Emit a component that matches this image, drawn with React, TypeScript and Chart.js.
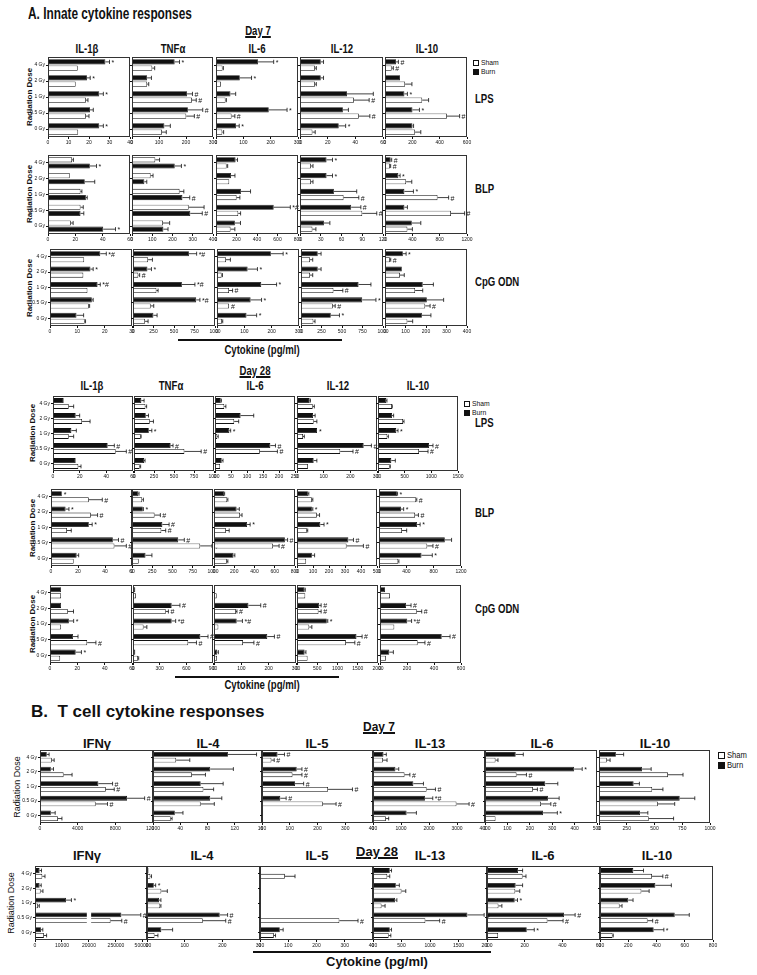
import React, { useEffect, useRef } from 'react';
import { Chart, registerables } from 'chart.js';
Chart.register(...registerables);

const FONT = "'Liberation Sans', Arial, sans-serif";
const doses = ['4 Gy', '2 Gy', '1 Gy', '0.5 Gy', '0 Gy'];
const innateTitles = ['IL-1β', 'TNFα', 'IL-6', 'IL-12', 'IL-10'];
const tcellTitles = ['IFNγ', 'IL-4', 'IL-5', 'IL-13', 'IL-6', 'IL-10'];
const ifnBrokenTicks = ['0', '10000', '20000', '250000', '500000'];
const NONE = ['', '', '', '', ''];

// ---------- A. Day 7, LPS ----------
const A7L_MAX = [40, 300, 300, 60, 600];
const A7L_STEP = [10, 100, 100, 20, 200];
const A7L_IL1B_B = [28, 19, 25, 20.5, 25]; const A7L_IL1B_BE = [2, 1.6, 2, 1.6, 2];
const A7L_IL1B_S = [14.5, 13.5, 18.5, 18.5, 14.7]; const A7L_IL1B_SE = [0, 0, 1, 1.5, 0];
const A7L_IL1B_BM = ['*', '*', '*', '', '*'];
const A7L_TNF_B = [158, 56, 204, 207, 120]; const A7L_TNF_BE = [18, 16, 20, 55, 22];
const A7L_TNF_S = [75, 56, 222, 201, 111]; const A7L_TNF_SE = [9, 6, 16, 30, 16];
const A7L_TNF_BM = ['*', '', '#', '#', '']; const A7L_TNF_SM = ['', '', '#', '#', ''];
const A7L_IL6_B = [154, 87, 53, 193, 73]; const A7L_IL6_BE = [57, 43, 19, 67, 12];
const A7L_IL6_S = [24, 18, 35, 57, 23]; const A7L_IL6_SE = [3, 0, 3, 12, 5];
const A7L_IL6_BM = ['*', '*', '', '*', '*']; const A7L_IL6_SM = ['', '', '', '#', ''];
const A7L_IL12_B = [15, 15, 34, 31, 28]; const A7L_IL12_BE = [2, 2, 19, 4, 5];
const A7L_IL12_S = [10.8, 10.8, 39, 42.5, 9]; const A7L_IL12_SE = [1, 1, 11, 8, 2];
const A7L_IL12_BM = ['', '', '', '', '*']; const A7L_IL12_SM = ['', '', '#', '#', ''];
const A7L_IL10_B = [81, 110, 142, 201, 201]; const A7L_IL10_BE = [17, 0, 22, 51, 8];
const A7L_IL10_S = [49, 147, 272, 453, 220]; const A7L_IL10_SE = [12, 50, 47, 93, 42];
const A7L_IL10_BM = ['#', '', '*', '*', '']; const A7L_IL10_SM = ['#', '', '', '#', ''];

// ---------- A. Day 7, BLP ----------
const A7B_MAX = [60, 400, 800, 120, 1200];
const A7B_STEP = [20, 100, 200, 30, 400];
const A7B_IL1B_B = [30.6, 26.9, 27.7, 23.8, 40.4]; const A7B_IL1B_BE = [4.9, 7.3, 1, 2.4, 9];
const A7B_IL1B_S = [17.6, 15.9, 23.8, 23.8, 16.7]; const A7B_IL1B_SE = [1, 0, 1, 2, 1.7];
const A7B_IL1B_BM = ['*', '', '', '', '*'];
const A7B_TNF_B = [211, 61, 249, 288, 155]; const A7B_TNF_BE = [33, 12, 36, 59, 23];
const A7B_TNF_S = [115, 92, 235, 280, 153]; const A7B_TNF_SE = [21, 12, 21, 76, 33];
const A7B_TNF_BM = ['*', '', '#', '#', ''];
const A7B_IL6_B = [191, 146, 243, 563, 184]; const A7B_IL6_BE = [19, 39, 94, 162, 55];
const A7B_IL6_S = [104, 129, 201, 217, 142]; const A7B_IL6_SE = [10, 0, 32, 23, 42];
const A7B_IL6_BM = ['', '', '', '*#', ''];
const A7B_IL12_B = [38.4, 38.4, 49, 74, 34.6]; const A7B_IL12_BE = [8.6, 8.6, 33, 14, 8.6];
const A7B_IL12_S = [15.8, 15.8, 63, 90, 18]; const A7B_IL12_SE = [3, 3, 22, 21, 5];
const A7B_IL12_BM = ['*', '*', '', '#', '']; const A7B_IL12_SM = ['', '', '#', '#', ''];
const A7B_IL10_B = [83, 196, 284, 284, 392]; const A7B_IL10_BE = [15, 25, 132, 44, 132];
const A7B_IL10_S = [73, 309, 769, 965, 328]; const A7B_IL10_SE = [10, 83, 162, 200, 73];
const A7B_IL10_BM = ['#', '*', '*', '', '']; const A7B_IL10_SM = ['#', '', '#', '#', ''];

// ---------- A. Day 7, CpG ODN ----------
const A7C_MAX = [30, 1000, 300, 1000, 400];
const A7C_STEP = [10, 250, 100, 250, 100];
const A7C_IL1B_B = [18.4, 14.8, 17.4, 15.3, 9.7]; const A7C_IL1B_BE = [2.2, 1, 1, 0.5, 2.6];
const A7C_IL1B_S = [12.5, 12.2, 13.7, 14.2, 12.7]; const A7C_IL1B_SE = [0, 0, 0, 0.3, 0.3];
const A7C_IL1B_BM = ['*#', '*', '*#', '', ''];
const A7C_TNF_B = [682, 176, 596, 771, 249]; const A7C_TNF_BE = [94, 49, 159, 45, 45];
const A7C_TNF_S = [184, 65, 286, 216, 147]; const A7C_TNF_SE = [53, 16, 20, 37, 37];
const A7C_TNF_BM = ['*#', '*', '*#', '*#', '']; const A7C_TNF_SM = ['', '#', '', '', ''];
const A7C_IL6_B = [197, 112, 162, 123, 108]; const A7C_IL6_BE = [45, 36, 56, 40, 37];
const A7C_IL6_S = [33, 17, 44, 44, 18]; const A7C_IL6_SE = [16, 3, 13, 0, 3];
const A7C_IL6_BM = ['*', '*', '*', '*', '*']; const A7C_IL6_SM = ['', '', '#', '#', ''];
const A7C_IL12_B = [204, 204, 702, 747, 363]; const A7C_IL12_BE = [41, 41, 151, 167, 106];
const A7C_IL12_S = [110, 110, 396, 388, 151]; const A7C_IL12_SE = [33, 33, 114, 29, 20];
const A7C_IL12_BM = ['', '', '', '*', '*']; const A7C_IL12_SM = ['', '', '#', '#', ''];
const A7C_IL10_B = [87, 82, 184, 204, 180]; const A7C_IL10_BE = [16, 0, 52, 82, 44];
const A7C_IL10_S = [24, 73, 147, 196, 109]; const A7C_IL10_SE = [4, 21, 37, 24, 26];
const A7C_IL10_BM = ['*', '', '', '', '']; const A7C_IL10_SM = ['#', '', '', '#', ''];

// ---------- A. Day 28, LPS ----------
const A28L_MAX = [60, 1000, 250, 300, 1500];
const A28L_STEP = [20, 250, 50, 100, 500];
const A28L_IL1B_B = [8, 17, 13.8, 41, 17]; const A28L_IL1B_BE = [0, 3, 3.7, 5, 0];
const A28L_IL1B_S = [11.8, 21.8, 11.8, 47, 19]; const A28L_IL1B_SE = [3.7, 6, 3.7, 8, 2];
const A28L_TNF_B = [92, 147, 185, 458, 126]; const A28L_TNF_BE = [34, 34, 38, 30, 12];
const A28L_TNF_S = [143, 197, 84, 630, 71]; const A28L_TNF_SE = [15, 46, 5, 210, 12];
const A28L_IL6_B = [18, 80, 45, 173, 21]; const A28L_IL6_BE = [2, 41, 4, 16, 4];
const A28L_IL6_S = [29, 60, 7, 140, 16]; const A28L_IL6_SE = [5, 14, 3, 55, 0];
const A28L_IL12_B = [47.5, 60, 75, 250, 62.5]; const A28L_IL12_BE = [3, 8, 0, 29, 12];
const A28L_IL12_S = [59, 62.5, 22.5, 162, 41]; const A28L_IL12_SE = [6, 12, 5, 48, 0];
const A28L_IL10_B = [156, 262, 344, 956, 250]; const A28L_IL10_BE = [12, 31, 31, 75, 75];
const A28L_IL10_S = [262, 469, 175, 769, 219]; const A28L_IL10_SE = [6, 19, 19, 169, 12];
const A28L_HASH = ['', '', '', '#', ''];
const A28L_STAR_HASH = ['', '', '*', '#', ''];

// ---------- A. Day 28, BLP ----------
const A28B_MAX = [60, 1000, 800, 500, 1200];
const A28B_STEP = [20, 250, 200, 100, 400];
const A28B_IL1B_B = [8, 10.8, 28, 45.8, 19]; const A28B_IL1B_BE = [0, 2.5, 2.5, 4.2, 1.5];
const A28B_IL1B_S = [28, 29.5, 11.8, 47, 16.8]; const A28B_IL1B_SE = [10, 5, 3.2, 8.8, 0];
const A28B_IL1B_BM = ['*', '*', '*', '#', '']; const A28B_IL1B_SM = ['#', '#', '', '#', ''];
const A28B_TNF_B = [79, 133, 375, 571, 167]; const A28B_TNF_BE = [8, 8, 83, 75, 79];
const A28B_TNF_S = [125, 279, 362, 842, 83]; const A28B_TNF_SE = [16, 71, 54, 146, 0];
const A28B_TNF_BM = ['', '*', '#', '#', '']; const A28B_TNF_SM = ['', '#', '#', '#', ''];
const A28B_IL6_B = [100, 223, 327, 700, 193]; const A28B_IL6_BE = [5, 27, 30, 27, 13];
const A28B_IL6_S = [130, 257, 117, 583, 127]; const A28B_IL6_SE = [7, 20, 33, 60, 10];
const A28B_IL6_BM = ['', '', '*', '#', '']; const A28B_IL6_SM = ['', '', '', '#', ''];
const A28B_IL12_B = [68, 93, 146, 321, 93]; const A28B_IL12_BE = [6, 6, 23, 32, 17];
const A28B_IL12_S = [93, 124, 61, 310, 57]; const A28B_IL12_SE = [6, 17, 6, 105, 0];
const A28B_IL12_BM = ['', '*', '*', '#', '']; const A28B_IL12_SM = ['', '', '', '#', ''];
const A28B_IL10_B = [262, 321, 558, 963, 622]; const A28B_IL10_BE = [10, 40, 44, 99, 158];
const A28B_IL10_S = [543, 528, 336, 706, 281]; const A28B_IL10_SE = [10, 49, 69, 84, 10];
const A28B_IL10_BM = ['*', '*', '*', '', '*']; const A28B_IL10_SM = ['#', '#', '', '#', ''];

// ---------- A. Day 28, CpG ODN ----------
const A28C_MAX = [60, 900, 300, 2000, 600];
const A28C_STEP = [20, 300, 100, 500, 200];
const A28C_IL1B_B = [8.1, 8.1, 13.8, 16.8, 18.8]; const A28C_IL1B_BE = [0, 0, 3.5, 3.7, 4.2];
const A28C_IL1B_S = [8.1, 13, 8.1, 27.2, 7.4]; const A28C_IL1B_SE = [0, 4.2, 0, 6.4, 0];
const A28C_IL1B_BM = ['', '', '*', '', '*']; const A28C_IL1B_SM = ['', '', '', '#', ''];
const A28C_TNF_B = [26, 435, 435, 758, 26]; const A28C_TNF_BE = [0, 93, 45, 86, 0];
const A28C_TNF_S = [33, 368, 119, 621, 56]; const A28C_TNF_SE = [0, 30, 37, 93, 8];
const A28C_IL6_B = [4, 126, 83, 195, 12]; const A28C_IL6_BE = [0, 45, 21, 26, 4];
const A28C_IL6_S = [10, 80, 16, 106, 11]; const A28C_IL6_SE = [0, 4, 0, 40, 0];
const A28C_IL12_B = [188, 547, 735, 1469, 188]; const A28C_IL12_BE = [16, 49, 25, 139, 33];
const A28C_IL12_S = [204, 531, 302, 1208, 261]; const A28C_IL12_SE = [0, 65, 65, 220, 0];
const A28C_IL12_BM = ['', '#', '*', '#', ''];
const A28C_IL10_B = [37, 193, 202, 457, 69]; const A28C_IL10_BE = [0, 37, 32, 62, 30];
const A28C_IL10_S = [74, 272, 106, 279, 44]; const A28C_IL10_SE = [0, 37, 0, 54, 0];
const A28C_BM = ['', '#', '*#', '#', ''];
const A28C_SM = ['', '#', '', '#', ''];

// ---------- B. Day 7 ----------
const B7_MAX = [12000, 160, 400, 4000, 500, 1000];
const B7_STEP = [4000, 40, 100, 1000, 100, 250];
const B7_IFN_B = [717, 1147, 6201, 9247, 1147]; const B7_IFN_BE = [250, 287, 1505, 1864, 466];
const B7_IFN_S = [1254, 2509, 6989, 5914, 1900]; const B7_IFN_SE = [250, 896, 896, 1254, 430];
const B7_IFN_M = ['', '', '#', '#', ''];
const B7_IL4_B = [110, 84, 70, 84, 32]; const B7_IL4_BE = [42, 34, 33, 17, 12];
const B7_IL4_S = [34, 57, 74, 70, 26]; const B7_IL4_SE = [20, 20, 15, 20, 2];
const B7_IL5_B = [56, 125, 119, 66, 4]; const B7_IL5_BE = [25, 19, 31, 21, 0];
const B7_IL5_S = [34, 110, 238, 219, 0]; const B7_IL5_SE = [10, 34, 88, 48, 0];
const B7_IL5_M = ['#', '#', '#', '#', ''];
const B7_IL13_B = [375, 800, 1442, 1855, 1200]; const B7_IL13_BE = [100, 120, 360, 280, 350];
const B7_IL13_S = [352, 1127, 1915, 2982, 460]; const B7_IL13_SE = [150, 190, 315, 450, 100];
const B7_IL13_BM = ['', '', '', '*#', '']; const B7_IL13_SM = ['', '#', '#', '#', ''];
const B7_IL6_B = [137, 398, 269, 281, 259]; const B7_IL6_BE = [34, 36, 56, 50, 64];
const B7_IL6_S = [47, 141, 214, 250, 47]; const B7_IL6_SE = [11, 44, 20, 44, 0];
const B7_IL6_BM = ['', '*', '', '', '*']; const B7_IL6_SM = ['', '#', '#', '#', ''];
const B7_IL10_B = [152, 388, 312, 727, 370]; const B7_IL10_BE = [70, 82, 52, 136, 70];
const B7_IL10_S = [70, 621, 479, 530, 448]; const B7_IL10_SE = [30, 136, 97, 152, 224];

// ---------- B. Day 28 ----------
const B28_MAX = [4.15, 300, 400, 2000, 600, 800];
const B28_STEP = [1, 100, 100, 500, 200, 200];
const B28_IFN_B = [1700, 1700, 11500, 300000, 2200]; const B28_IFN_BE = [700, 600, 2000, 180000, 700];
const B28_IFN_S = [2700, 2100, 1100, 204000, 3300]; const B28_IFN_SE = [1000, 850, 500, 100000, 1000];
const B28_IFN_BM = ['', '', '*', '#', '']; const B28_IFN_SM = ['', '', '', '#', ''];
const B28_IL4_B = [4, 18, 32, 193, 38]; const B28_IL4_BE = [0, 5, 5, 21, 30];
const B28_IL4_S = [9, 38, 35, 148, 20]; const B28_IL4_SE = [3, 16, 2, 61, 9];
const B28_IL4_BM = ['', '*', '', '#', '']; const B28_IL4_SM = ['', '', '', '#', ''];
const B28_IL5_B = [0, 0, 0, 0, 70]; const B28_IL5_BE = [0, 0, 0, 0, 12];
const B28_IL5_S = [88, 0, 0, 281, 49]; const B28_IL5_SE = [36, 0, 0, 66, 6];
const B28_IL5_SM = ['', '', '', '#', ''];
const B28_IL13_B = [294, 400, 388, 1656, 294]; const B28_IL13_BE = [31, 62, 31, 294, 31];
const B28_IL13_S = [250, 500, 150, 919, 275]; const B28_IL13_SE = [44, 75, 62, 250, 38];
const B28_IL13_M = ['', '', '', '#', ''];
const B28_IL6_B = [165, 152, 147, 409, 211]; const B28_IL6_BE = [24, 37, 15, 59, 40];
const B28_IL6_S = [189, 150, 61, 321, 59]; const B28_IL6_SE = [18, 24, 18, 83, 0];
const B28_IL6_BM = ['', '', '*', '#', '*']; const B28_IL6_SM = ['', '', '', '#', ''];
const B28_IL10_B = [236, 392, 200, 529, 380]; const B28_IL10_BE = [72, 113, 34, 103, 72];
const B28_IL10_S = [368, 293, 139, 337, 89]; const B28_IL10_SE = [77, 55, 17, 36, 5];
const B28_IL10_BM = ['', '', '', '', '*']; const B28_IL10_SM = ['#', '', '', '#', ''];

// broken IFN-gamma axis (Day 28): 0-20000 linear, then compressed
function brk(v: number) {
  if (v <= 20000) return v / 10000;
  if (v <= 250000) return 2 + (v - 20000) / 230000;
  return 3 + (v - 250000) / 250000;
}

type Series = { b: number[]; be: number[]; s: number[]; se: number[]; bm: string[]; sm: string[] };
const S = (b: number[], be: number[], s: number[], se: number[], bm: string[] = NONE, sm: string[] = NONE): Series => ({ b, be, s, se, bm, sm });

type Row = { top: number; bot: number; xs: number[][]; series: Series[]; max: number[]; step: number[]; shamFirst?: boolean[]; broken?: number; big?: boolean };

const rows: Row[] = [
  { top: 57, bot: 137, xs: [[48, 130], [132, 213], [216, 298], [300, 383], [385, 467]], max: A7L_MAX, step: A7L_STEP,
    series: [S(A7L_IL1B_B, A7L_IL1B_BE, A7L_IL1B_S, A7L_IL1B_SE, A7L_IL1B_BM), S(A7L_TNF_B, A7L_TNF_BE, A7L_TNF_S, A7L_TNF_SE, A7L_TNF_BM, A7L_TNF_SM),
      S(A7L_IL6_B, A7L_IL6_BE, A7L_IL6_S, A7L_IL6_SE, A7L_IL6_BM, A7L_IL6_SM), S(A7L_IL12_B, A7L_IL12_BE, A7L_IL12_S, A7L_IL12_SE, A7L_IL12_BM, A7L_IL12_SM),
      S(A7L_IL10_B, A7L_IL10_BE, A7L_IL10_S, A7L_IL10_SE, A7L_IL10_BM, A7L_IL10_SM)] },
  { top: 155, bot: 234, xs: [[48, 130], [132, 213], [216, 298], [300, 383], [385, 467]], max: A7B_MAX, step: A7B_STEP, shamFirst: [true, true, false, false, false],
    series: [S(A7B_IL1B_B, A7B_IL1B_BE, A7B_IL1B_S, A7B_IL1B_SE, A7B_IL1B_BM), S(A7B_TNF_B, A7B_TNF_BE, A7B_TNF_S, A7B_TNF_SE, A7B_TNF_BM),
      S(A7B_IL6_B, A7B_IL6_BE, A7B_IL6_S, A7B_IL6_SE, A7B_IL6_BM), S(A7B_IL12_B, A7B_IL12_BE, A7B_IL12_S, A7B_IL12_SE, A7B_IL12_BM, A7B_IL12_SM),
      S(A7B_IL10_B, A7B_IL10_BE, A7B_IL10_S, A7B_IL10_SE, A7B_IL10_BM, A7B_IL10_SM)] },
  { top: 249, bot: 326, xs: [[50, 132], [133, 215], [217, 299], [301, 383], [385, 467]], max: A7C_MAX, step: A7C_STEP,
    series: [S(A7C_IL1B_B, A7C_IL1B_BE, A7C_IL1B_S, A7C_IL1B_SE, A7C_IL1B_BM), S(A7C_TNF_B, A7C_TNF_BE, A7C_TNF_S, A7C_TNF_SE, A7C_TNF_BM, A7C_TNF_SM),
      S(A7C_IL6_B, A7C_IL6_BE, A7C_IL6_S, A7C_IL6_SE, A7C_IL6_BM, A7C_IL6_SM), S(A7C_IL12_B, A7C_IL12_BE, A7C_IL12_S, A7C_IL12_SE, A7C_IL12_BM, A7C_IL12_SM),
      S(A7C_IL10_B, A7C_IL10_BE, A7C_IL10_S, A7C_IL10_SE, A7C_IL10_BM, A7C_IL10_SM)] },
  { top: 396, bot: 471, xs: [[53, 133], [134, 214], [215, 295], [297, 377], [378, 458]], max: A28L_MAX, step: A28L_STEP,
    series: [S(A28L_IL1B_B, A28L_IL1B_BE, A28L_IL1B_S, A28L_IL1B_SE, A28L_HASH, A28L_HASH), S(A28L_TNF_B, A28L_TNF_BE, A28L_TNF_S, A28L_TNF_SE, A28L_STAR_HASH, A28L_HASH),
      S(A28L_IL6_B, A28L_IL6_BE, A28L_IL6_S, A28L_IL6_SE, A28L_STAR_HASH, A28L_HASH), S(A28L_IL12_B, A28L_IL12_BE, A28L_IL12_S, A28L_IL12_SE, A28L_STAR_HASH, A28L_HASH),
      S(A28L_IL10_B, A28L_IL10_BE, A28L_IL10_S, A28L_IL10_SE, A28L_STAR_HASH, A28L_HASH)] },
  { top: 489, bot: 566, xs: [[51, 132], [132, 213], [214, 295], [297, 377], [379, 461]], max: A28B_MAX, step: A28B_STEP,
    series: [S(A28B_IL1B_B, A28B_IL1B_BE, A28B_IL1B_S, A28B_IL1B_SE, A28B_IL1B_BM, A28B_IL1B_SM), S(A28B_TNF_B, A28B_TNF_BE, A28B_TNF_S, A28B_TNF_SE, A28B_TNF_BM, A28B_TNF_SM),
      S(A28B_IL6_B, A28B_IL6_BE, A28B_IL6_S, A28B_IL6_SE, A28B_IL6_BM, A28B_IL6_SM), S(A28B_IL12_B, A28B_IL12_BE, A28B_IL12_S, A28B_IL12_SE, A28B_IL12_BM, A28B_IL12_SM),
      S(A28B_IL10_B, A28B_IL10_BE, A28B_IL10_S, A28B_IL10_SE, A28B_IL10_BM, A28B_IL10_SM)] },
  { top: 585, bot: 663, xs: [[50, 132], [133, 213], [214, 296], [297, 378], [380, 461]], max: A28C_MAX, step: A28C_STEP,
    series: [S(A28C_IL1B_B, A28C_IL1B_BE, A28C_IL1B_S, A28C_IL1B_SE, A28C_IL1B_BM, A28C_IL1B_SM), S(A28C_TNF_B, A28C_TNF_BE, A28C_TNF_S, A28C_TNF_SE, A28C_BM, A28C_SM),
      S(A28C_IL6_B, A28C_IL6_BE, A28C_IL6_S, A28C_IL6_SE, A28C_BM, A28C_SM), S(A28C_IL12_B, A28C_IL12_BE, A28C_IL12_S, A28C_IL12_SE, A28C_IL12_BM, A28C_SM),
      S(A28C_IL10_B, A28C_IL10_BE, A28C_IL10_S, A28C_IL10_SE, A28C_BM, A28C_SM)] },
  { top: 750, bot: 823, big: true, xs: [[40, 153], [153, 262], [262, 373], [373, 485], [485, 597], [599, 710]], max: B7_MAX, step: B7_STEP,
    series: [S(B7_IFN_B, B7_IFN_BE, B7_IFN_S, B7_IFN_SE, B7_IFN_M, B7_IFN_M), S(B7_IL4_B, B7_IL4_BE, B7_IL4_S, B7_IL4_SE),
      S(B7_IL5_B, B7_IL5_BE, B7_IL5_S, B7_IL5_SE, B7_IL5_M, B7_IL5_M), S(B7_IL13_B, B7_IL13_BE, B7_IL13_S, B7_IL13_SE, B7_IL13_BM, B7_IL13_SM),
      S(B7_IL6_B, B7_IL6_BE, B7_IL6_S, B7_IL6_SE, B7_IL6_BM, B7_IL6_SM), S(B7_IL10_B, B7_IL10_BE, B7_IL10_S, B7_IL10_SE)] },
  { top: 866, bot: 940, big: true, broken: 0, xs: [[35, 147], [147, 260], [260, 373], [373, 487], [487, 600], [600, 713]], max: B28_MAX, step: B28_STEP,
    series: [S(B28_IFN_B, B28_IFN_BE, B28_IFN_S, B28_IFN_SE, B28_IFN_BM, B28_IFN_SM), S(B28_IL4_B, B28_IL4_BE, B28_IL4_S, B28_IL4_SE, B28_IL4_BM, B28_IL4_SM),
      S(B28_IL5_B, B28_IL5_BE, B28_IL5_S, B28_IL5_SE, NONE, B28_IL5_SM), S(B28_IL13_B, B28_IL13_BE, B28_IL13_S, B28_IL13_SE, B28_IL13_M, B28_IL13_M),
      S(B28_IL6_B, B28_IL6_BE, B28_IL6_S, B28_IL6_SE, B28_IL6_BM, B28_IL6_SM), S(B28_IL10_B, B28_IL10_BE, B28_IL10_S, B28_IL10_SE, B28_IL10_BM, B28_IL10_SM)] },
];

type PanelDef = { key: string; x0: number; x1: number; top: number; bot: number; ser: Series; max: number; step: number; showY: boolean; shamFirst: boolean; broken: boolean; big: boolean };
const panels: PanelDef[] = [];
rows.forEach((r, ri) => r.xs.forEach((xx, pi) => panels.push({
  key: ri + '-' + pi, x0: xx[0], x1: xx[1], top: r.top, bot: r.bot, ser: r.series[pi], max: r.max[pi], step: r.step[pi],
  showY: pi === 0, shamFirst: !!(r.shamFirst && r.shamFirst[pi]), broken: r.broken === pi, big: !!r.big,
})));

const PT = 4, PR = 12, XH = 10;

const extras = {
  id: 'extras',
  afterDatasetsDraw(chart: any) {
    const ctx = chart.ctx; const xs = chart.scales.x; const ca = chart.chartArea;
    ctx.save();
    ctx.strokeStyle = '#111'; ctx.fillStyle = '#111'; ctx.lineWidth = 0.8;
    chart.data.datasets.forEach((ds: any, i: number) => {
      const meta = chart.getDatasetMeta(i);
      meta.data.forEach((bar: any, j: number) => {
        const y = bar.y; const h = bar.height;
        let end = bar.x;
        const e = ds.errEnd[j];
        if (e != null) {
          const px = xs.getPixelForValue(e);
          ctx.beginPath();
          ctx.moveTo(bar.x, y); ctx.lineTo(px, y);
          ctx.moveTo(px, y - h * 0.4); ctx.lineTo(px, y + h * 0.4);
          ctx.stroke();
          end = px;
        }
        const m = ds.marks[j];
        if (m) {
          ctx.font = '7px ' + FONT; ctx.textBaseline = 'middle'; ctx.textAlign = 'left';
          ctx.fillText(m, end + 2, y + 1);
        }
      });
    });
    if (chart.options.plugins.extras && chart.options.plugins.extras.broken) {
      const a = xs.getPixelForValue(1.92), b = xs.getPixelForValue(2.08);
      ctx.fillStyle = '#fff';
      ctx.fillRect(a, ca.top + 1, b - a, ca.bottom - ca.top - 2);
    }
    ctx.strokeStyle = '#333'; ctx.lineWidth = 1;
    ctx.strokeRect(ca.left + 0.5, ca.top + 0.5, ca.right - ca.left - 1, ca.bottom - ca.top - 1);
    ctx.restore();
  },
};

function Panel({ p }: { p: PanelDef }) {
  const ref = useRef<HTMLCanvasElement>(null);
  const YW = p.showY ? 20 : 3;
  const w = YW + (p.x1 - p.x0) + PR;
  const h = PT + (p.bot - p.top) + XH;
  useEffect(() => {
    const tf = p.broken ? brk : (v: number) => v;
    const mkDs = (label: string, vals: number[], errs: number[], marks: string[], fill: string) => ({
      label, data: vals.map(tf),
      errEnd: vals.map((v, i) => (errs[i] > 0 ? tf(v + errs[i]) : null)),
      marks, backgroundColor: fill, borderColor: '#111', borderWidth: 0.8,
      categoryPercentage: 0.78, barPercentage: 0.84,
    });
    const burn = mkDs('Burn', p.ser.b, p.ser.be, p.ser.bm, '#111');
    const sham = mkDs('Sham', p.ser.s, p.ser.se, p.ser.sm, '#fff');
    const chart = new Chart(ref.current as HTMLCanvasElement, {
      type: 'bar',
      data: { labels: doses, datasets: (p.shamFirst ? [sham, burn] : [burn, sham]) as any },
      options: {
        indexAxis: 'y', animation: false, responsive: false, maintainAspectRatio: false, devicePixelRatio: 1,
        layout: { padding: { top: PT, right: PR, left: 0, bottom: 0 } },
        plugins: { legend: { display: false }, tooltip: { enabled: false }, extras: { broken: p.broken } } as any,
        scales: {
          x: {
            type: 'linear', min: 0, max: p.max,
            afterFit: (s: any) => { s.height = XH; },
            ticks: {
              stepSize: p.step, autoSkip: false, maxRotation: 0, minRotation: 0, includeBounds: false,
              font: { size: 5, family: FONT }, color: '#111', padding: 1,
              callback: (v: any) => (p.broken ? (ifnBrokenTicks[v] ?? '') : String(v)),
            },
            grid: { drawOnChartArea: false, tickLength: 2, color: '#111' },
            border: { display: false },
          },
          y: {
            afterFit: (s: any) => { s.width = YW; },
            ticks: { display: p.showY, font: { size: 5, family: FONT }, color: '#111', padding: 1, autoSkip: false },
            grid: { drawOnChartArea: false, tickLength: 2, offset: false, color: '#111' },
            border: { display: false },
          },
        },
      } as any,
      plugins: [extras],
    });
    return () => chart.destroy();
  }, []);
  return <canvas ref={ref} width={w} height={h} style={{ position: 'absolute', left: p.x0 - YW, top: p.top - PT, width: w, height: h }} />;
}

function Txt({ x, y, s, size, bold = true, align = 'center', sx = 1, ul = false }: any) {
  return (
    <div style={{
      position: 'absolute', left: x, top: y - 0.13 * size, fontSize: size, lineHeight: 1, fontWeight: bold ? 700 : 400,
      whiteSpace: 'nowrap', fontFamily: FONT, color: '#111',
      transform: align === 'center' ? `translateX(-50%) scaleX(${sx})` : `scaleX(${sx})`,
      transformOrigin: align === 'center' ? 'center' : 'left',
      textDecoration: ul ? 'underline' : 'none', textDecorationThickness: ul ? 1.5 : undefined,
    }}>{s}</div>
  );
}

function VTxt({ cx, cy, s, size, bold = true }: any) {
  return (
    <div style={{ position: 'absolute', left: cx, top: cy, fontSize: size, lineHeight: 1, fontWeight: bold ? 700 : 400, whiteSpace: 'nowrap', fontFamily: FONT, color: '#111', transform: 'translate(-50%, -50%) rotate(-90deg)' }}>{s}</div>
  );
}

function Legend({ x, y, gap, box, size, tx }: any) {
  const sw = (fill: string, yy: number) => (
    <div style={{ position: 'absolute', left: x, top: yy, width: box, height: box, background: fill, border: '1px solid #111', boxSizing: 'border-box' }} />
  );
  return (
    <>
      {sw('#fff', y)}
      <Txt x={tx} y={y} s="Sham" size={size} bold={false} align="left" sx={0.85} />
      {sw('#111', y + gap)}
      <Txt x={tx} y={y + gap} s="Burn" size={size} bold={false} align="left" sx={0.85} />
    </>
  );
}

const Bar = ({ x, y, w }: any) => <div style={{ position: 'absolute', left: x, top: y, width: w, height: 2, background: '#111' }} />;

export default function App() {
  const A7T = [87, 173, 257, 342, 427];
  const A28T = [92, 171, 255, 338, 418];
  const B7T = [97, 208, 317, 430, 542, 655];
  const B28T = [87, 202, 317, 430, 543, 657];
  return (
    <div style={{ position: 'absolute', left: 0, top: 0, width: 757, height: 975, background: '#fff', overflow: 'hidden' }}>
      <Txt x={28} y={8} s="A. Innate cytokine responses" size={16} align="left" sx={0.74} />
      <Txt x={258} y={27} s="Day 7" size={12} sx={0.8} ul />
      {innateTitles.map((t, i) => <Txt key={'a7' + i} x={A7T[i]} y={45} s={t} size={12} sx={0.8} />)}
      <Legend x={473} y={60} gap={9} box={6} size={8} tx={481} />
      <Txt x={475} y={95} s="LPS" size={12} align="left" sx={0.8} />
      <Txt x={475} y={185} s="BLP" size={12} align="left" sx={0.8} />
      <Txt x={475} y={278} s="CpG ODN" size={12} align="left" sx={0.8} />
      {[97, 194, 288].map((cy, i) => <VTxt key={'r7' + i} cx={30} cy={cy} s="Radiation Dose" size={8} />)}
      <Bar x={178} y={339} w={164} />
      <Txt x={262} y={346} s="Cytokine (pg/ml)" size={12} sx={0.8} />

      <Txt x={255} y={367} s="Day 28" size={12} sx={0.8} ul />
      {innateTitles.map((t, i) => <Txt key={'a28' + i} x={A28T[i]} y={382} s={t} size={12} sx={0.8} />)}
      <Legend x={464} y={401} gap={9} box={6} size={8} tx={472} />
      <Txt x={475} y={419} s="LPS" size={12} align="left" sx={0.8} />
      <Txt x={475} y={509} s="BLP" size={12} align="left" sx={0.8} />
      <Txt x={475} y={605} s="CpG ODN" size={12} align="left" sx={0.8} />
      {[433, 528, 624].map((cy, i) => <VTxt key={'r28' + i} cx={33} cy={cy} s="Radiation Dose" size={8} />)}
      <Bar x={175} y={676} w={164} />
      <Txt x={262} y={681} s="Cytokine (pg/ml)" size={12} sx={0.8} />

      <Txt x={31} y={705} s={'B.\u00a0 T cell cytokine responses'} size={17} align="left" />
      <Txt x={379} y={723} s="Day 7" size={12} ul />
      {tcellTitles.map((t, i) => <Txt key={'b7' + i} x={B7T[i]} y={739} s={t} size={13} />)}
      <Legend x={718} y={752} gap={10} box={7} size={9} tx={727} />
      <VTxt cx={17} cy={787} s="Radiation Dose" size={9} bold={false} />
      <Txt x={377} y={847} s="Day 28" size={13} ul />
      {tcellTitles.map((t, i) => <Txt key={'b28' + i} x={B28T[i]} y={851} s={t} size={13} />)}
      <VTxt cx={11} cy={903} s="Radiation Dose" size={9} bold={false} />
      <Bar x={253} y={951} w={238} />
      <Txt x={377} y={957} s="Cytokine (pg/ml)" size={13} />

      {panels.map((p) => <Panel key={p.key} p={p} />)}
    </div>
  );
}
